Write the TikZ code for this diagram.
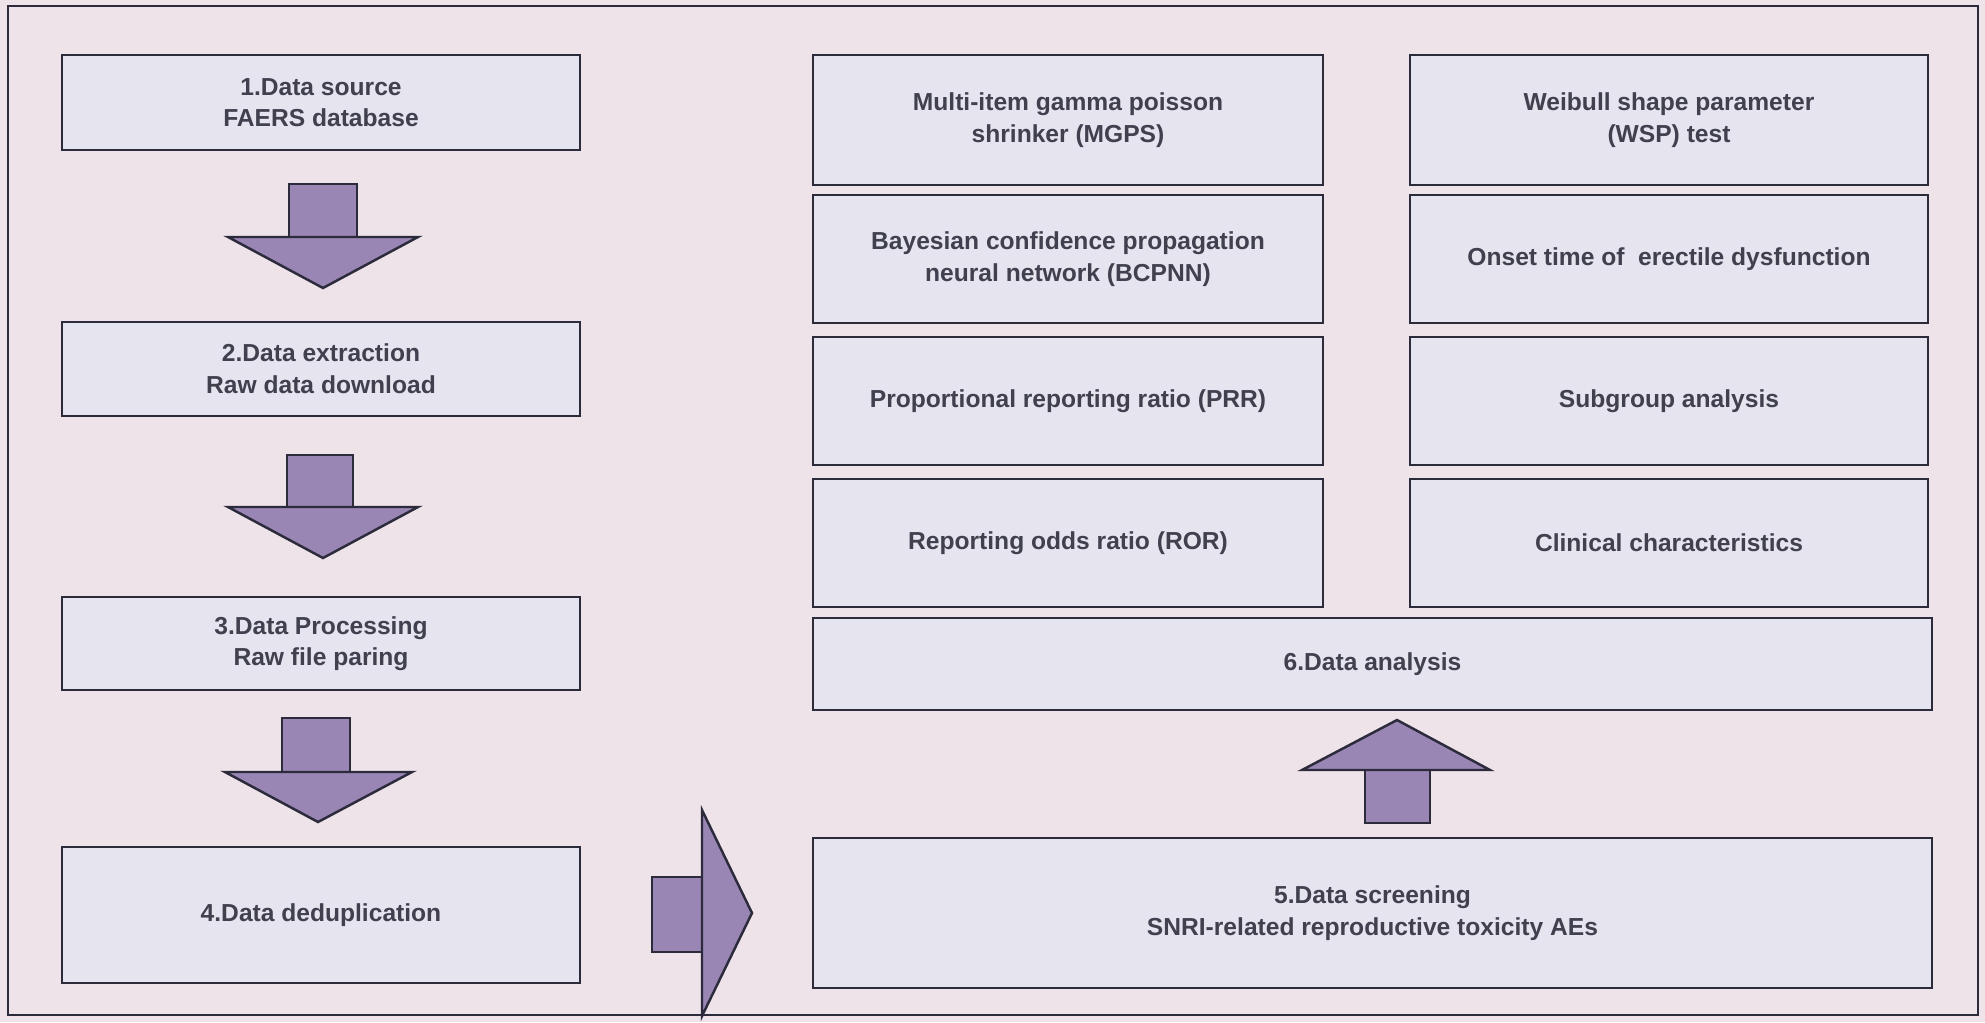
\documentclass[tikz,border=0pt]{standalone}
\usepackage{fontspec}
\setmainfont{Liberation Sans}
\begin{document}
\definecolor{bg}{HTML}{EFE3EA}
\definecolor{bx}{HTML}{E6E4EE}
\definecolor{ar}{HTML}{9A86B5}
\definecolor{ln}{HTML}{2B2B3B}
\begin{tikzpicture}[x=0.02cm,y=-0.02cm,
  box/.style={draw=ln,line width=1.4pt,fill=bx,align=center,font=\bfseries\fontsize{14}{18}\selectfont,text=ln!90},
  arr/.style={draw=ln,line width=1.4pt,fill=ar}]
\useasboundingbox (0,0) rectangle (1985,1022);
\fill[bg] (0,0) rectangle (1985,1022);
\draw[ln,line width=1.6pt] (8,6) rectangle (1978,1015);
\newcommand{\bxat}[6]{\node[box,minimum width={(#4-#2)*0.02cm},minimum height={(#5-#3)*0.02cm}] (#1) at ({(#2+#4)/2},{(#3+#5)/2}) {#6};}
\bxat{b1}{62}{55}{580}{150}{1.Data source\\FAERS database}
\bxat{b2}{62}{322}{580}{416}{2.Data extraction\\Raw data download}
\bxat{b3}{62}{597}{580}{690}{3.Data Processing\\Raw file paring}
\bxat{b4}{62}{847}{580}{983}{4.Data deduplication}
\bxat{a1}{813}{55}{1323}{185}{Multi-item gamma poisson\\shrinker (MGPS)}
\bxat{a2}{813}{195}{1323}{323}{Bayesian confidence propagation\\neural network (BCPNN)}
\bxat{a3}{813}{337}{1323}{465}{Proportional reporting ratio (PRR)}
\bxat{a4}{813}{479}{1323}{607}{Reporting odds ratio (ROR)}
\bxat{c1}{1410}{55}{1928}{185}{Weibull shape parameter\\(WSP) test}
\bxat{c2}{1410}{195}{1928}{323}{Onset time of\ \ erectile dysfunction}
\bxat{c3}{1410}{337}{1928}{465}{Subgroup analysis}
\bxat{c4}{1410}{479}{1928}{607}{Clinical characteristics}
\bxat{d6}{813}{618}{1932}{710}{6.Data analysis}
\bxat{d5}{813}{838}{1932}{988}{5.Data screening\\SNRI-related reproductive toxicity AEs}
% down arrows
\draw[arr] (289,184) rectangle (357,237);
\draw[arr] (228,237) -- (418,237) -- (323,288) -- cycle;
\draw[arr] (287,455) rectangle (353,507);
\draw[arr] (228,507) -- (418,507) -- (323,558) -- cycle;
\draw[arr] (282,718) rectangle (350,772);
\draw[arr] (225,772) -- (412,772) -- (318,822) -- cycle;
% right arrow
\draw[arr] (652,877) rectangle (702,952);
\draw[arr] (702,810) -- (752,913) -- (702,1016) -- cycle;
% up arrow
\draw[arr] (1365,770) rectangle (1430,823);
\draw[arr] (1302,770) -- (1397,720) -- (1490,770) -- cycle;
\end{tikzpicture}
\end{document}
